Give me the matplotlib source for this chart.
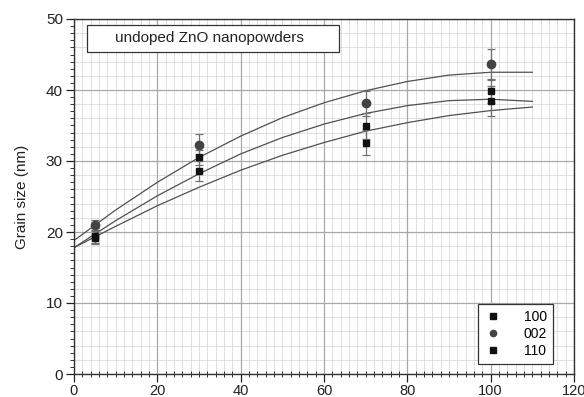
import numpy as np
import matplotlib.pyplot as plt
from matplotlib.ticker import MultipleLocator
from matplotlib.lines import Line2D
from matplotlib.patches import Rectangle

plt.rcParams['font.family'] = ['Liberation Sans', 'DejaVu Sans']

# annealing points and measured grain size per reflection
temps = [5, 30, 70, 100]
size_100 = [19.5, 30.5, 34.9, 39.9]
err_100 = [1.0, 1.0, 1.8, 1.7]
size_002 = [21.0, 32.3, 38.1, 43.6]
err_002 = [0.7, 1.5, 1.7, 2.2]
size_110 = [19.2, 28.6, 32.6, 38.5]
err_110 = [0.9, 1.4, 1.7, 2.1]

# fitted trend curves
fit_x = [0, 10, 20, 30, 40, 50, 60, 70, 80, 90, 100, 110]
fit_002 = [18.8, 23.1, 27.0, 30.5, 33.5, 36.1, 38.2, 39.9, 41.2, 42.1, 42.5, 42.5]
fit_100 = [17.8, 21.6, 25.1, 28.2, 31.0, 33.3, 35.2, 36.7, 37.8, 38.5, 38.7, 38.4]
fit_110 = [17.8, 20.8, 23.7, 26.3, 28.7, 30.8, 32.6, 34.2, 35.4, 36.4, 37.1, 37.6]

fig = plt.figure(figsize=(5.84, 3.97), dpi=100)
ax = fig.add_axes([74 / 584, 1 - 374 / 397, 500 / 584, 355 / 397])

ax.set_xlim(0, 120)
ax.set_ylim(0, 50)
ax.xaxis.set_major_locator(MultipleLocator(20))
ax.xaxis.set_minor_locator(MultipleLocator(2))
ax.yaxis.set_major_locator(MultipleLocator(10))
ax.yaxis.set_minor_locator(MultipleLocator(1))

# grid: dark major lines, light minor lines every 2 units
ax.grid(which='major', color='#a8a8a8', lw=0.9)
for x in np.arange(2, 120, 2):
    ax.axvline(x, color='#dadada', lw=0.6, zorder=0)
for y in np.arange(2, 50, 2):
    ax.axhline(y, color='#dadada', lw=0.6, zorder=0)
ax.set_axisbelow(True)

for fy in (fit_002, fit_100, fit_110):
    ax.plot(fit_x, fy, color='#505050', lw=0.9, zorder=2)

ekw = dict(ecolor='#707070', elinewidth=0.9, capsize=3, capthick=0.9, ls='none', zorder=3)
ax.errorbar(temps, size_100, yerr=err_100, marker='s', ms=5, mfc='#111111', mec='#111111', **ekw)
ax.errorbar(temps, size_002, yerr=err_002, marker='o', ms=6, mfc='#444444', mec='#444444', **ekw)
ax.errorbar(temps, size_110, yerr=err_110, marker='s', ms=5, mfc='#111111', mec='#111111', **ekw)

for s in ax.spines.values():
    s.set_color('#333333')
    s.set_linewidth(1.0)

ax.tick_params(which='major', direction='out', length=6, width=0.9, labelsize=11,
               colors='#222222', pad=2)
ax.tick_params(axis='x', which='major', labelsize=10.5, pad=1)
ax.tick_params(axis='y', which='minor', direction='out', length=3, width=0.7, colors='#333333')
ax.tick_params(axis='x', which='minor', direction='inout', length=4, width=0.7, colors='#333333')
ax.set_ylabel('Grain size (nm)', fontsize=11, color='#222222', labelpad=12)

# caption box in the upper left corner
ax.add_patch(Rectangle((3.1, 45.4), 60.6, 3.8, fc='white', ec='#333333', lw=0.9, zorder=5))
ax.text(9.8, 47.3, 'undoped ZnO nanopowders', fontsize=11, color='#222222',
        va='center', ha='left', zorder=6)

handles = [Line2D([], [], ls='none', marker='s', ms=4, color='#111111'),
           Line2D([], [], ls='none', marker='o', ms=4.5, color='#444444'),
           Line2D([], [], ls='none', marker='s', ms=4, color='#111111')]
leg = ax.legend(handles, ['100', '002', '110'], loc='lower right',
                bbox_to_anchor=(115 / 120, 1.4 / 50), fontsize=10, frameon=True, fancybox=False,
                handlelength=1.2, handletextpad=1.6, labelspacing=0.2,
                borderpad=0.45, borderaxespad=0, framealpha=1)
leg.get_frame().set_edgecolor('#333333')
leg.get_frame().set_linewidth(0.9)

fig.savefig('out.png', dpi=100)
